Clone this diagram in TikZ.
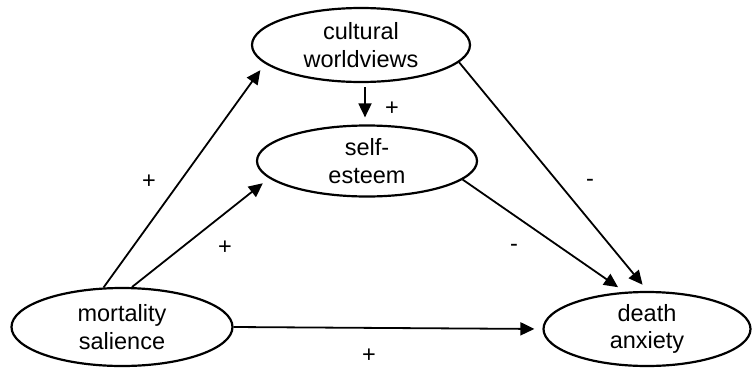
\documentclass[tikz,border=0pt]{standalone}
\usepackage{fontspec}
\setmainfont{Liberation Sans}
\usetikzlibrary{shapes.geometric,arrows.meta}
\begin{document}
\begin{tikzpicture}[x=1pt,y=-1pt,
  var/.style={draw, line width=2.2pt, ellipse, inner sep=0pt, align=center,
    font=\fontsize{23.5}{27.5}\selectfont},
  arr/.style={line width=1.8pt, -{Triangle[length=14pt,width=13pt]}, shorten >=8pt},
  sign/.style={font=\fontsize{23.5}{27.5}\selectfont, inner sep=0pt}]
\useasboundingbox (0,0) rectangle (752,367);
\node[var, minimum width=218pt, minimum height=74pt] (cult) at (361,45) {cultural\\worldviews};
\node[var, minimum width=220pt, minimum height=71pt] (self) at (367,161) {self-\\esteem};
\node[var, minimum width=221pt, minimum height=78pt] (mort) at (122,327) {mortality\\salience};
\node[var, minimum width=207pt, minimum height=74pt] (death) at (647,329) {death\\anxiety};
\draw[arr] (mort.115) -- (cult.191.5);
\draw[arr] (mort.76) -- (self.190.8);
\draw[arr] (mort.east) -- (death.west);
\draw[arr, shorten <=4pt, shorten >=7pt] ([xshift=4pt]cult.south) -- ([xshift=-2pt]self.north);
\draw[arr] (cult.-10) -- (death.89);
\draw[arr] (self.-11.6) -- (death.121.5);
\node[sign] (s1) at (149,182) {+};
\node[sign] (s2) at (225,248) {+};
\node[sign] (s3) at (369,356) {+};
\node[sign] (s4) at (392,109) {+};
\node[sign] (s5) at (590,183) {-};
\node[sign] (s6) at (514,248) {-};
\end{tikzpicture}
\end{document}
